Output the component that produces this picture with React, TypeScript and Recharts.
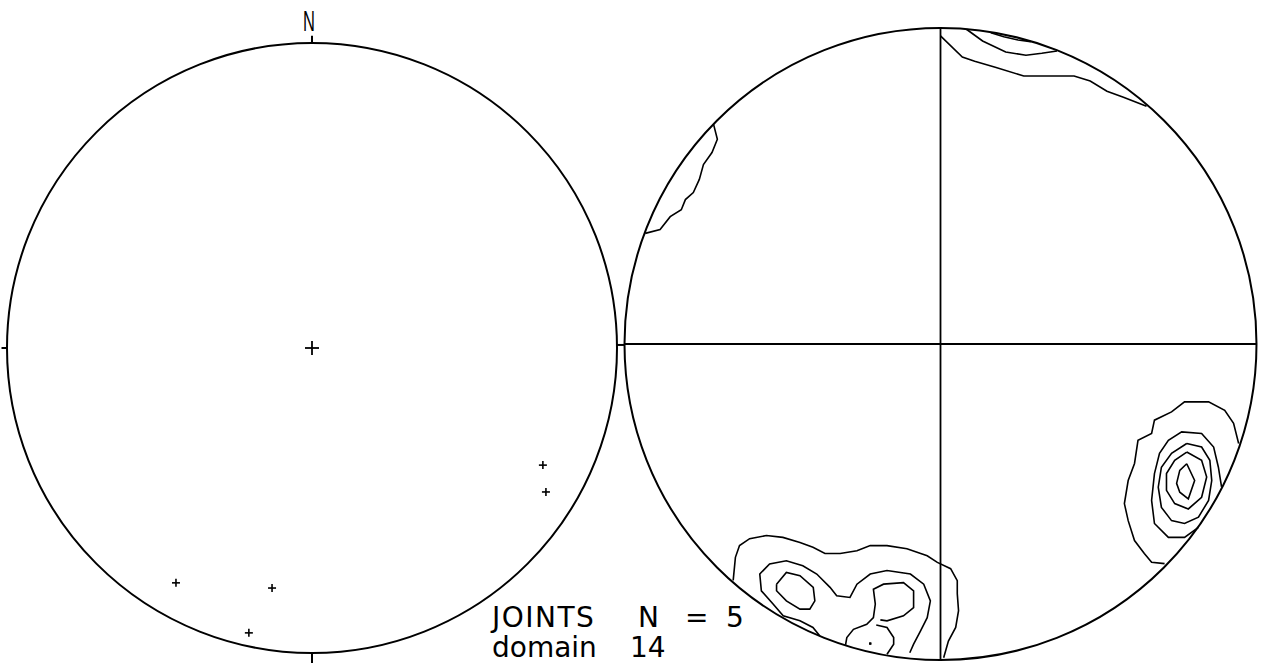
import React from 'react'
import { ScatterChart, Scatter, XAxis, YAxis, ReferenceDot, ReferenceLine } from 'recharts'

type P = { u: number; v: number }

// left net: poles to joints, unit-radius coords (u east, v north)
const centreMark: P[] = [{ u: 0, v: 0 }]
const jointPoles: P[] = [
  { u: 0.757, v: -0.384 },
  { u: 0.767, v: -0.472 },
  { u: -0.446, v: -0.77 },
  { u: -0.131, v: -0.787 },
  { u: -0.207, v: -0.934 },
]

// right net: density contours
const neOuter: P[] = [
  { u: 0, v: 0.975 }, { u: 0.069, v: 0.908 }, { u: 0.108, v: 0.895 }, { u: 0.173, v: 0.876 },
  { u: 0.263, v: 0.848 }, { u: 0.422, v: 0.848 }, { u: 0.473, v: 0.832 }, { u: 0.526, v: 0.8 },
  { u: 0.578, v: 0.781 }, { u: 0.651, v: 0.752 },
]
const neMiddle: P[] = [
  { u: 0.082, v: 0.996 }, { u: 0.133, v: 0.959 }, { u: 0.206, v: 0.924 }, { u: 0.27, v: 0.914 },
  { u: 0.32, v: 0.92 }, { u: 0.368, v: 0.927 },
]
const neInner: P[] = [
  { u: 0.159, v: 0.985 }, { u: 0.2, v: 0.972 }, { u: 0.245, v: 0.962 }, { u: 0.285, v: 0.957 },
]
const nwOuter: P[] = [
  { u: -0.717, v: 0.695 }, { u: -0.705, v: 0.648 }, { u: -0.722, v: 0.606 }, { u: -0.749, v: 0.568 },
  { u: -0.762, v: 0.521 }, { u: -0.781, v: 0.479 }, { u: -0.806, v: 0.457 }, { u: -0.819, v: 0.425 },
  { u: -0.854, v: 0.403 }, { u: -0.886, v: 0.362 }, { u: -0.933, v: 0.35 },
]
const seOuter: P[] = [
  { u: 0.942, v: -0.315 }, { u: 0.926, v: -0.251 }, { u: 0.898, v: -0.21 }, { u: 0.847, v: -0.183 },
  { u: 0.771, v: -0.183 }, { u: 0.73, v: -0.215 }, { u: 0.676, v: -0.241 }, { u: 0.667, v: -0.283 },
  { u: 0.624, v: -0.305 }, { u: 0.613, v: -0.378 }, { u: 0.593, v: -0.432 }, { u: 0.581, v: -0.505 },
  { u: 0.593, v: -0.559 }, { u: 0.613, v: -0.622 }, { u: 0.644, v: -0.663 }, { u: 0.667, v: -0.691 },
  { u: 0.708, v: -0.695 },
]
const seRing2: P[] = [
  { u: 0.888, v: -0.452 }, { u: 0.878, v: -0.39 }, { u: 0.863, v: -0.326 }, { u: 0.825, v: -0.283 },
  { u: 0.762, v: -0.278 }, { u: 0.72, v: -0.305 }, { u: 0.692, v: -0.346 }, { u: 0.676, v: -0.41 },
  { u: 0.667, v: -0.495 }, { u: 0.676, v: -0.568 }, { u: 0.72, v: -0.612 }, { u: 0.771, v: -0.612 },
  { u: 0.815, v: -0.58 },
]
const seRing3: P[] = [
  { u: 0.778, v: -0.315 }, { u: 0.825, v: -0.326 }, { u: 0.851, v: -0.368 }, { u: 0.857, v: -0.432 },
  { u: 0.847, v: -0.495 }, { u: 0.815, v: -0.548 }, { u: 0.771, v: -0.568 }, { u: 0.73, v: -0.559 },
  { u: 0.698, v: -0.517 }, { u: 0.688, v: -0.453 }, { u: 0.698, v: -0.39 }, { u: 0.73, v: -0.346 },
  { u: 0.778, v: -0.315 },
]
const seRing4: P[] = [
  { u: 0.778, v: -0.342 }, { u: 0.825, v: -0.368 }, { u: 0.841, v: -0.421 }, { u: 0.825, v: -0.485 },
  { u: 0.783, v: -0.522 }, { u: 0.74, v: -0.505 }, { u: 0.714, v: -0.463 }, { u: 0.714, v: -0.41 },
  { u: 0.74, v: -0.368 }, { u: 0.778, v: -0.342 },
]
const sePeak: P[] = [
  { u: 0.778, v: -0.379 }, { u: 0.803, v: -0.432 }, { u: 0.783, v: -0.49 }, { u: 0.756, v: -0.469 },
  { u: 0.746, v: -0.441 }, { u: 0.756, v: -0.4 }, { u: 0.778, v: -0.379 },
]
const swOuter: P[] = [
  { u: -0.655, v: -0.748 }, { u: -0.648, v: -0.675 }, { u: -0.635, v: -0.638 }, { u: -0.603, v: -0.616 },
  { u: -0.55, v: -0.606 }, { u: -0.498, v: -0.612 }, { u: -0.444, v: -0.628 }, { u: -0.403, v: -0.643 },
  { u: -0.365, v: -0.663 }, { u: -0.317, v: -0.663 }, { u: -0.264, v: -0.654 }, { u: -0.222, v: -0.638 },
  { u: -0.169, v: -0.638 }, { u: -0.106, v: -0.648 }, { u: -0.042, v: -0.67 }, { u: -0.01, v: -0.691 },
  { u: 0.032, v: -0.711 }, { u: 0.053, v: -0.749 }, { u: 0.053, v: -0.79 }, { u: 0.057, v: -0.844 },
  { u: 0.048, v: -0.897 }, { u: 0.025, v: -0.94 }, { u: 0.01, v: -0.993 },
]
const swRing2: P[] = [
  { u: -0.381, v: -0.924 }, { u: -0.403, v: -0.897 }, { u: -0.444, v: -0.876 }, { u: -0.497, v: -0.86 },
  { u: -0.529, v: -0.823 }, { u: -0.566, v: -0.781 }, { u: -0.571, v: -0.728 }, { u: -0.54, v: -0.696 },
  { u: -0.487, v: -0.686 }, { u: -0.435, v: -0.702 }, { u: -0.391, v: -0.728 }, { u: -0.349, v: -0.77 },
  { u: -0.328, v: -0.797 }, { u: -0.286, v: -0.802 }, { u: -0.264, v: -0.76 }, { u: -0.222, v: -0.728 },
  { u: -0.169, v: -0.717 }, { u: -0.095, v: -0.728 }, { u: -0.053, v: -0.76 }, { u: -0.032, v: -0.813 },
  { u: -0.042, v: -0.866 }, { u: -0.063, v: -0.908 }, { u: -0.085, v: -0.95 }, { u: -0.097, v: -0.977 },
]
const swLobeWest: P[] = [
  { u: -0.518, v: -0.76 }, { u: -0.487, v: -0.723 }, { u: -0.444, v: -0.733 }, { u: -0.402, v: -0.77 },
  { u: -0.397, v: -0.813 }, { u: -0.413, v: -0.839 }, { u: -0.444, v: -0.839 }, { u: -0.487, v: -0.813 },
  { u: -0.518, v: -0.781 }, { u: -0.518, v: -0.76 },
]
const swLobeEast: P[] = [
  { u: -0.3, v: -0.952 }, { u: -0.296, v: -0.929 }, { u: -0.275, v: -0.903 }, { u: -0.233, v: -0.887 },
  { u: -0.212, v: -0.866 }, { u: -0.206, v: -0.823 }, { u: -0.212, v: -0.776 }, { u: -0.18, v: -0.76 },
  { u: -0.117, v: -0.755 }, { u: -0.085, v: -0.781 }, { u: -0.085, v: -0.834 }, { u: -0.117, v: -0.86 },
  { u: -0.169, v: -0.876 }, { u: -0.19, v: -0.873 },
]
const swPocket: P[] = [
  { u: -0.203, v: -0.889 }, { u: -0.169, v: -0.897 }, { u: -0.148, v: -0.929 }, { u: -0.148, v: -0.95 },
  { u: -0.169, v: -0.982 },
]
const swSpot: P[] = [{ u: -0.222, v: -0.948 }]

const contours: P[][] = [
  neOuter, neMiddle, neInner, nwOuter,
  seOuter, seRing2, seRing3, seRing4, sePeak,
  swOuter, swRing2, swLobeWest, swLobeEast, swPocket,
]

const ink = '#000'
const labelFont = '"DejaVu Sans", sans-serif'

const crossShape = (size: number, w: number) => (props: any) => {
  const { cx, cy } = props
  return (
    <g stroke={ink} strokeWidth={w}>
      <line x1={cx - size} y1={cy} x2={cx + size} y2={cy} />
      <line x1={cx} y1={cy - size} x2={cx} y2={cy + size} />
    </g>
  )
}

const noDot = () => <g />

const axes = (
  <>
    <XAxis type="number" dataKey="u" domain={[-1, 1]} allowDataOverflow hide />
    <YAxis type="number" dataKey="v" domain={[-1, 1]} allowDataOverflow hide />
  </>
)

function PoleNet() {
  return (
    <ScatterChart width={630} height={672} margin={{ top: 43, right: 13, bottom: 19, left: 7 }}>
      {axes}
      <ReferenceDot x={0} y={0} r={305} fill="none" stroke={ink} strokeWidth={2} ifOverflow="visible" />
      <ReferenceLine segment={[{ x: 0, y: 1 }, { x: 0, y: 1.024 }]} stroke={ink} strokeWidth={2} ifOverflow="visible" />
      <ReferenceLine segment={[{ x: 0, y: -1 }, { x: 0, y: -1.033 }]} stroke={ink} strokeWidth={2} ifOverflow="visible" />
      <ReferenceLine segment={[{ x: -1.018, y: 0 }, { x: -1, y: 0 }]} stroke={ink} strokeWidth={2} ifOverflow="visible" />
      <ReferenceLine segment={[{ x: 1, y: 0.01 }, { x: 1.026, y: 0.01 }]} stroke={ink} strokeWidth={2} ifOverflow="visible" />
      <Scatter data={centreMark} shape={crossShape(7, 1.8)} isAnimationActive={false} />
      <Scatter data={jointPoles} shape={crossShape(4, 1.6)} isAnimationActive={false} />
    </ScatterChart>
  )
}

function ContourNet() {
  return (
    <ScatterChart width={645} height={672} margin={{ top: 28, right: 8, bottom: 12, left: 4 }}>
      {axes}
      <ReferenceDot x={0} y={0} r={316} fill="none" stroke={ink} strokeWidth={2} ifOverflow="visible" />
      <ReferenceLine x={0} stroke={ink} strokeWidth={1.8} />
      <ReferenceLine y={0} stroke={ink} strokeWidth={1.8} />
      {contours.map((c, i) => (
        <Scatter
          key={i}
          data={c}
          line={{ stroke: ink, strokeWidth: 1.6 }}
          stroke={ink}
          fill="none"
          shape={noDot}
          isAnimationActive={false}
        />
      ))}
      <Scatter data={swSpot} shape={crossShape(1.2, 2)} isAnimationActive={false} />
    </ScatterChart>
  )
}

const txt = (left: number, top: number, s: string, spacing = 0) => (
  <div
    style={{
      position: 'absolute', left, top, fontFamily: labelFont, fontSize: 28, lineHeight: '28px',
      color: ink, whiteSpace: 'pre', letterSpacing: spacing,
    }}
  >
    {s}
  </div>
)

// narrow north letter above the pole net
function NorthMark() {
  return (
    <svg width={30} height={36} style={{ position: 'absolute', left: 294, top: 0 }}>
      <text
        x={0}
        y={31}
        transform="translate(15 0) scale(0.55 1)"
        textAnchor="middle"
        fontFamily='"Liberation Sans", Arial, sans-serif'
        fontSize={30}
        fill={ink}
      >
        N
      </text>
    </svg>
  )
}

export default function App() {
  return (
    <div style={{ position: 'absolute', left: 0, top: 0, width: 1265, height: 672, background: '#fff', overflow: 'hidden' }}>
      <div style={{ position: 'absolute', left: 0, top: 0 }}>
        <PoleNet />
      </div>
      <div style={{ position: 'absolute', left: 620, top: 0 }}>
        <ContourNet />
      </div>
      <NorthMark />
      {txt(492, 604, 'JOINTS', 1.5)}
      {txt(638, 604, 'N')}
      {txt(685, 604, '=')}
      {txt(726, 604, '5')}
      {txt(492, 634, 'domain')}
      {txt(630, 634, '14')}
    </div>
  )
}
